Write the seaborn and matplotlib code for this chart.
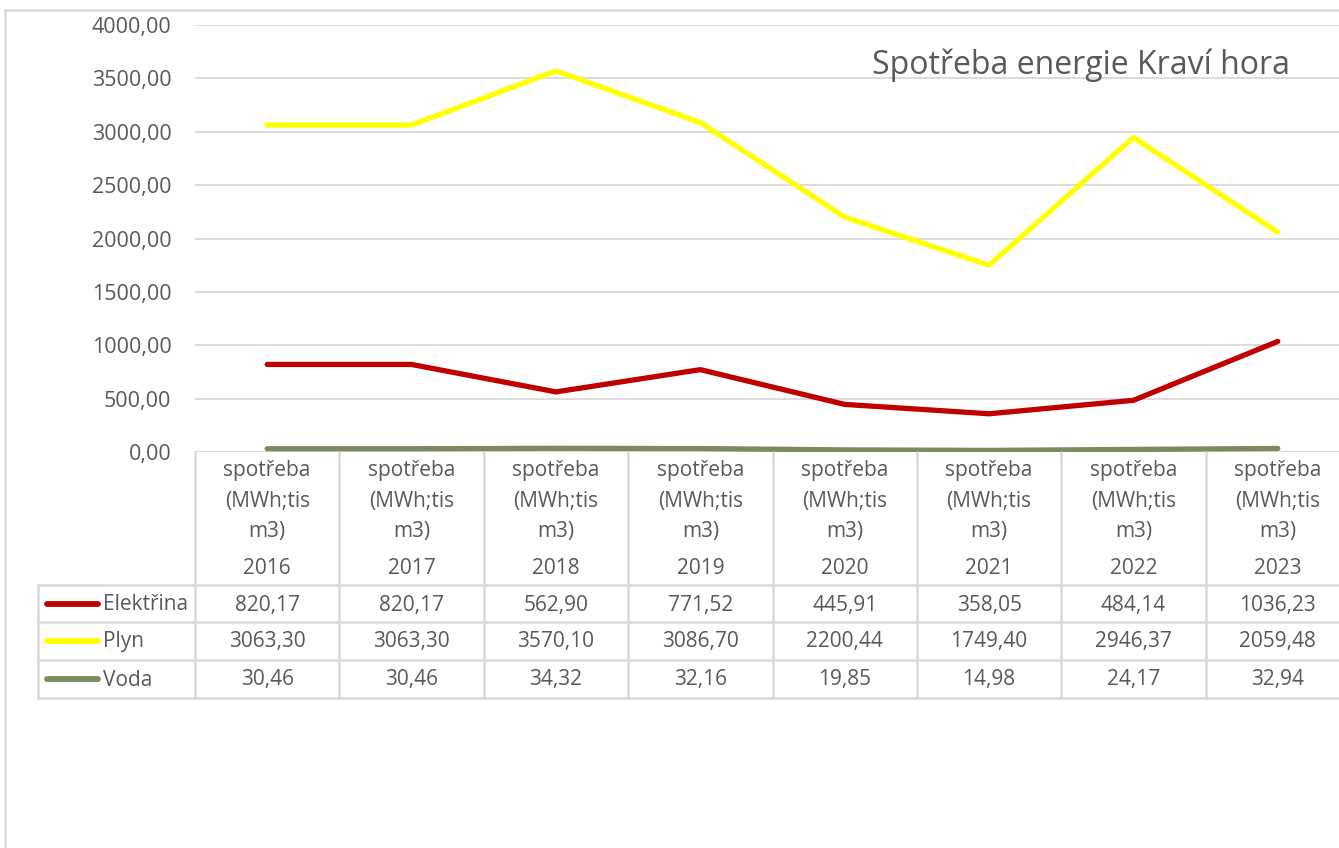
import matplotlib
matplotlib.use("Agg")
import matplotlib.pyplot as plt
import matplotlib.transforms as mtransforms
from matplotlib.lines import Line2D
import seaborn as sns
import pandas as pd

years = ["2016", "2017", "2018", "2019", "2020", "2021", "2022", "2023"]
header = "spotřeba\n(MWh;tis\nm3)"
series_names = ["Elektřina", "Plyn", "Voda"]
elektrina = [820.17, 820.17, 562.90, 771.52, 445.91, 358.05, 484.14, 1036.23]
plyn = [3063.30, 3063.30, 3570.10, 3086.70, 2200.44, 1749.40, 2946.37, 2059.48]
voda = [30.46, 30.46, 34.32, 32.16, 19.85, 14.98, 24.17, 32.94]
colors = ["#C00000", "#FFFF00", "#7B8B5E"]
title = "Spotřeba energie Kraví hora"

W, H = 1339, 848
GREY = "#595959"
LINE = "#D9D9D9"
FS = 15

sns.set_theme(style="white")
plt.rcParams['font.family'] = ['Open Sans', 'DejaVu Sans']


def fy(y):
    # pixel from top -> figure fraction
    return 1 - y / H


def fx(x):
    return x / W


df = pd.DataFrame({"idx": list(range(len(years))) * 3,
                   "value": elektrina + plyn + voda,
                   "serie": [s for s in series_names for _ in years]})

fig = plt.figure(figsize=(W / 100, H / 100), dpi=100)
ax = fig.add_axes([fx(195), fy(452), fx(1350 - 195), (452 - 25) / H])

sns.lineplot(data=df, x="idx", y="value", hue="serie", palette=colors,
             linewidth=3.8, legend=False, ax=ax)
for ln in ax.lines:
    ln.set_solid_capstyle("round")

ax.set_xlim(-0.5, len(years) - 0.5)
ax.set_ylim(0, 4000)
ax.set_yticks(range(0, 4001, 500))
ax.set_yticklabels([f"{v},00" for v in range(0, 4001, 500)], color=GREY, fontsize=15.5)
ax.set_xticks([])
ax.set(xlabel="", ylabel="")
ax.tick_params(axis="y", length=0, pad=17)
ax.grid(axis="y", color=LINE, linewidth=1.3)
ax.set_axisbelow(True)
for s in ax.spines.values():
    s.set_visible(False)

ax.text(0.948, 0.905, title, transform=ax.transAxes, ha="right", va="center",
        fontsize=23, color=GREY)

# data table under the chart
tr = mtransforms.blended_transform_factory(ax.transData, fig.transFigure)
n = len(years)
for i in range(n + 1):
    fig.add_artist(Line2D([i - 0.5, i - 0.5], [fy(452), fy(698)], transform=tr,
                          color=LINE, linewidth=1.8, clip_on=False))
for y in [585, 622, 660, 698]:
    fig.add_artist(Line2D([fx(38), fx(1350)], [fy(y), fy(y)], transform=fig.transFigure,
                          color=LINE, linewidth=1.8))
fig.add_artist(Line2D([fx(38), fx(38)], [fy(585), fy(698)], transform=fig.transFigure,
                      color=LINE, linewidth=1.8))

for i, yr in enumerate(years):
    ax.text(i, fy(501), header, transform=tr, ha="center", va="center",
            fontsize=FS, color=GREY, linespacing=1.62, clip_on=False)
    ax.text(i, fy(569), yr, transform=tr, ha="center", va="center",
            fontsize=FS, color=GREY, clip_on=False)

rows_y = [605, 642, 680]
for name, vals, c, y in zip(series_names, [elektrina, plyn, voda], colors, rows_y):
    fig.add_artist(Line2D([fx(47), fx(98)], [fy(y - 1), fy(y - 1)], transform=fig.transFigure,
                          color=c, linewidth=4.2, solid_capstyle="round"))
    fig.text(fx(103), fy(y), name, ha="left", va="center", fontsize=FS, color=GREY)
    for i, v in enumerate(vals):
        ax.text(i, fy(y), f"{v:.2f}".replace(".", ","), transform=tr, ha="center",
                va="center", fontsize=FS, color=GREY, clip_on=False)

# chart area border
fig.add_artist(Line2D([fx(5), fx(5)], [fy(10), 0], transform=fig.transFigure,
                      color=LINE, linewidth=1.8))
fig.add_artist(Line2D([fx(5), 1], [fy(10), fy(10)], transform=fig.transFigure,
                      color=LINE, linewidth=1.8))

plt.savefig("out.png", dpi=100)
